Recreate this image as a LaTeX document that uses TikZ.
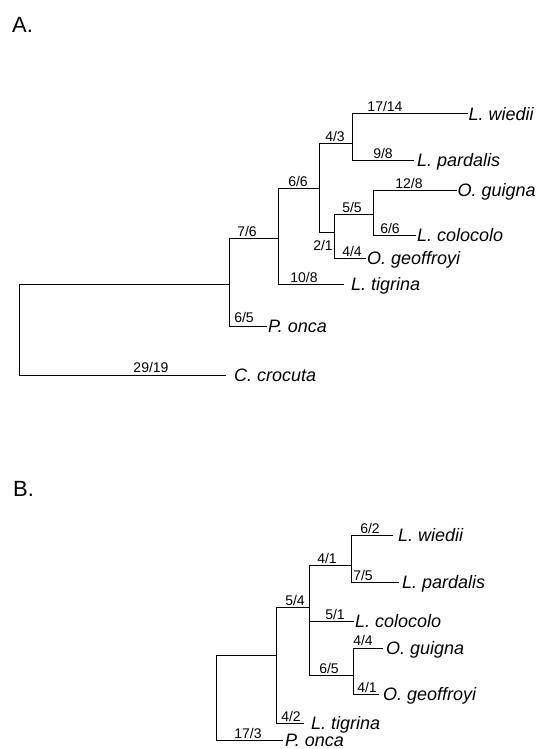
\documentclass[tikz,border=0pt]{standalone}
\usepackage{fontspec}
\setmainfont{Liberation Sans}
\begin{document}
\begin{tikzpicture}[x=1pt,y=-1pt,
  branch/.style={draw=black, line width=1pt, line cap=rect},
  taxon/.style={anchor=west, inner ysep=0pt, inner xsep=1.5pt,
    text height=12.9pt, text depth=0pt,
    font=\fontsize{18}{18}\selectfont\itshape},
  support/.style={anchor=base, inner sep=0pt, font=\fontsize{14}{14}\selectfont},
  panel/.style={anchor=base west, inner sep=0pt, font=\fontsize{22}{22}\selectfont}]
\useasboundingbox (0,0) rectangle (537,749);

% ---------- panel A ----------
\node[panel] (labA) at (12,33) {A.};

\coordinate (rA) at (19,284);
\coordinate (a1) at (229,284);
\coordinate (a2) at (278,238);
\coordinate (a3) at (319,188);
\coordinate (a4) at (352,143);
\coordinate (a5) at (334,232);
\coordinate (a6) at (373,214);

\node[taxon] (aWie) at (467,114) {L. wiedii};
\node[taxon, inner xsep=4pt] (aPar) at (413,160) {L. pardalis};
\node[taxon] (aGui) at (456,190) {O. guigna};
\node[taxon, inner xsep=2pt] (aCol) at (415,235) {L. colocolo};
\node[taxon, inner xsep=2pt] (aGeo) at (365,258) {O. geoffroyi};
\node[taxon, inner xsep=8pt] (aTig) at (343,284) {L. tigrina};
\node[taxon, inner xsep=2pt] (aOnc) at (266,326) {P. onca};
\node[taxon, inner xsep=9pt] (aCro) at (225,375) {C. crocuta};

\draw[branch] (rA) |- (a1);
\draw[branch] (rA) |- (aCro);
\draw[branch] (a1) |- (a2);
\draw[branch] (a1) |- (aOnc);
\draw[branch] (a2) |- (a3);
\draw[branch] (a2) |- (aTig);
\draw[branch] (a3) |- (a4);
\draw[branch] (a3) |- (a5);
\draw[branch] (a4) |- (aWie);
\draw[branch] (a4) |- (aPar);
\draw[branch] (a5) |- (a6);
\draw[branch] (a5) |- (aGeo);
\draw[branch] (a6) |- (aGui);
\draw[branch] (a6) |- (aCol);

\node[support] (sA1) at (385,112) {17/14};
\node[support] (sA2) at (383,158) {9/8};
\node[support] (sA3) at (335,141) {4/3};
\node[support] (sA4) at (298,186) {6/6};
\node[support] (sA5) at (323,250) {2/1};
\node[support] (sA6) at (352,212) {5/5};
\node[support] (sA7) at (409,188) {12/8};
\node[support] (sA8) at (390,233) {6/6};
\node[support] (sA9) at (352,256) {4/4};
\node[support] (sA10) at (247,236) {7/6};
\node[support] (sA11) at (304,282) {10/8};
\node[support] (sA12) at (244,322) {6/5};
\node[support] (sA13) at (151,372) {29/19};

% ---------- panel B ----------
\node[panel] (labB) at (13,496) {B.};

\coordinate (rB) at (216,655);
\coordinate (b1) at (276,655);
\coordinate (b2) at (309,607);
\coordinate (b3) at (351,565);
\coordinate (b4) at (353,675);

\node[taxon, inner xsep=6pt] (bWie) at (392,535) {L. wiedii};
\node[taxon, inner xsep=4pt] (bPar) at (398,582) {L. pardalis};
\node[taxon, inner xsep=2pt] (bCol) at (353,621) {L. colocolo};
\node[taxon, inner xsep=4pt] (bGui) at (382,648) {O. guigna};
\node[taxon, inner xsep=5pt] (bGeo) at (378,694) {O. geoffroyi};
\node[taxon, inner xsep=8pt] (bTig) at (303,723) {L. tigrina};
\node[taxon, inner xsep=3pt] (bOnc) at (282,740) {P. onca};

\draw[branch] (rB) |- (b1);
\draw[branch] (rB) |- (bOnc);
\draw[branch] (b1) |- (b2);
\draw[branch] (b1) |- (bTig);
\draw[branch] (b2) |- (b3);
\draw[branch] (b2) |- (bCol);
\draw[branch] (b2) |- (b4);
\draw[branch] (b3) |- (bWie);
\draw[branch] (b3) |- (bPar);
\draw[branch] (b4) |- (bGui);
\draw[branch] (b4) |- (bGeo);

\node[support] (sB1) at (370,533) {6/2};
\node[support] (sB2) at (363,580) {7/5};
\node[support] (sB3) at (327,563) {4/1};
\node[support] (sB4) at (295,605) {5/4};
\node[support] (sB5) at (335,619) {5/1};
\node[support] (sB6) at (363,645) {4/4};
\node[support] (sB7) at (329,673) {6/5};
\node[support] (sB8) at (367,692) {4/1};
\node[support] (sB9) at (291,721) {4/2};
\node[support] (sB10) at (248,738) {17/3};
\end{tikzpicture}
\end{document}
